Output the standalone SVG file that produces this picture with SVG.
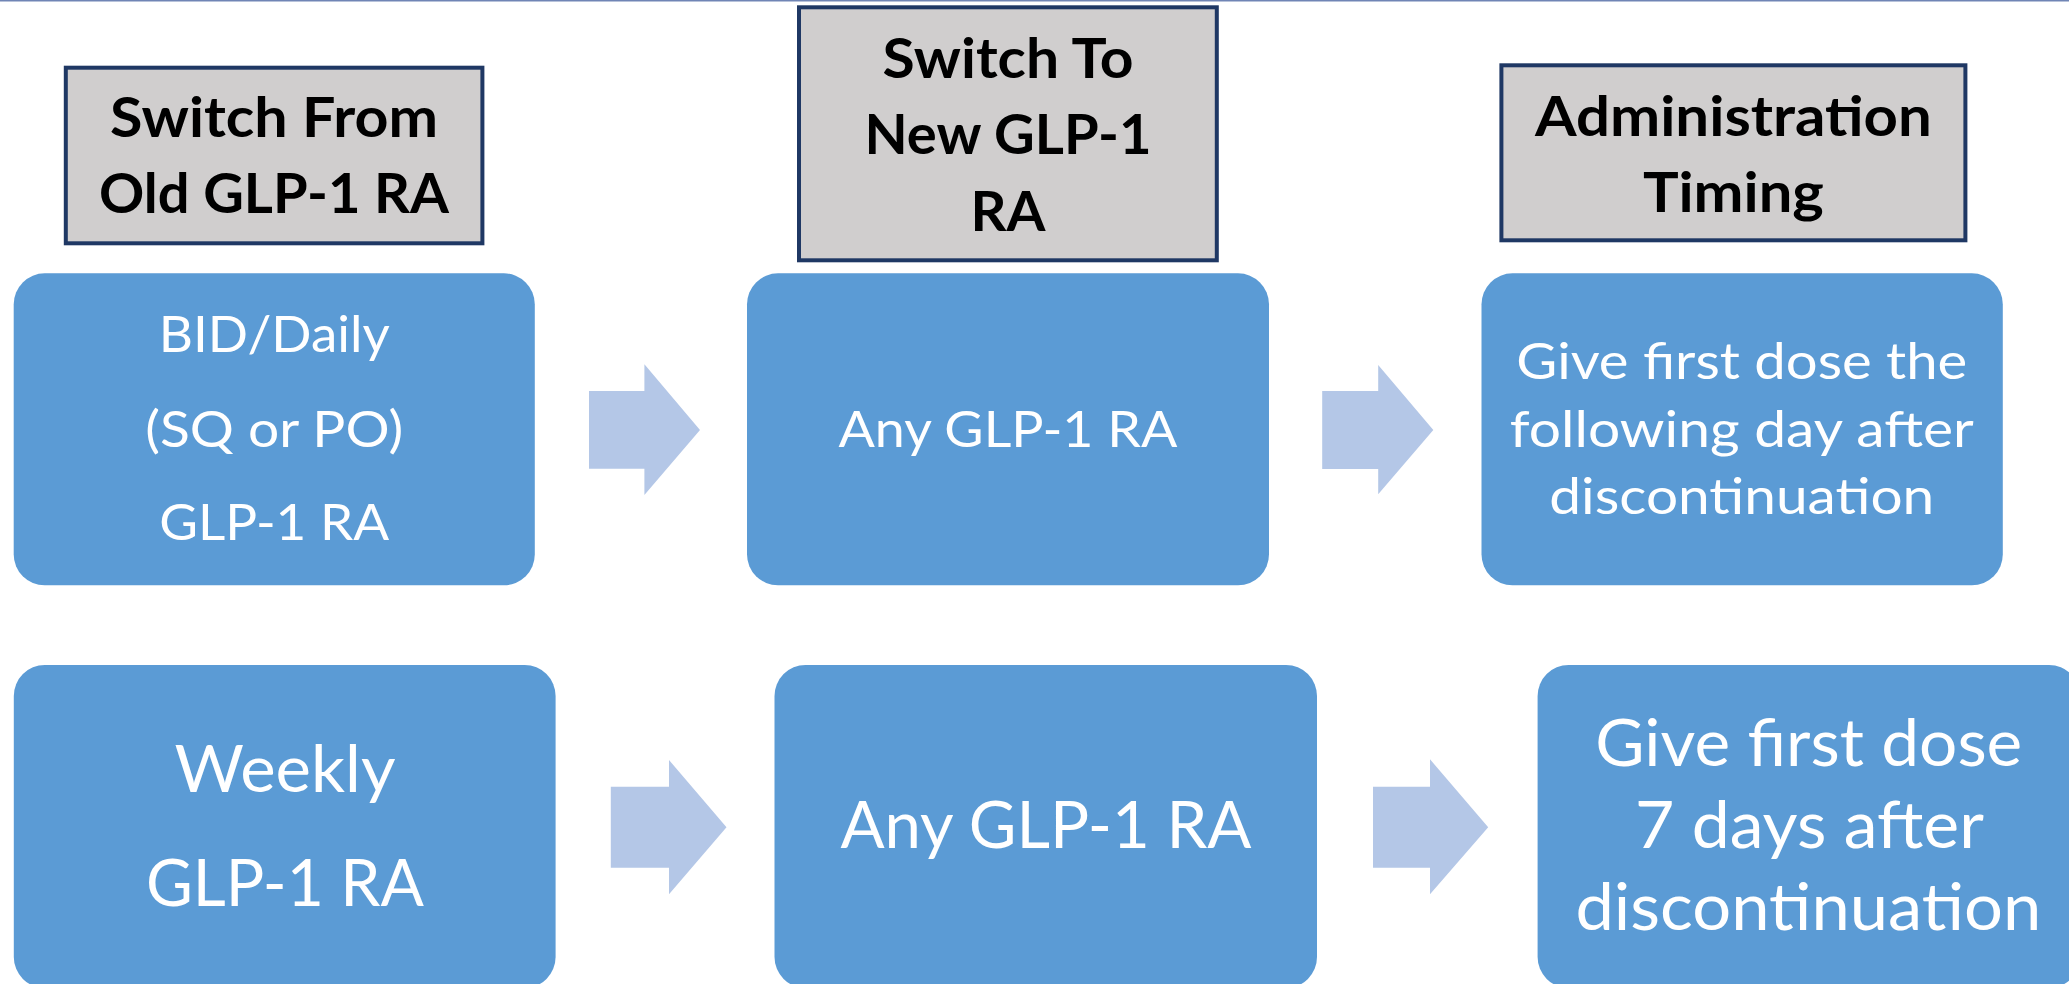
<svg xmlns="http://www.w3.org/2000/svg" width="2069" height="984" viewBox="0 0 2069 984">
  <style>
    .hdr { fill: #d0cece; stroke: #1f3864; stroke-width: 4; }
    .hdr-t { font-family: Lato, "Liberation Sans", sans-serif; font-weight: bold; font-size: 56px; fill: #000000; text-anchor: middle; }
    .box { fill: #5b9bd5; }
    .box-t { font-family: Lato, "Liberation Sans", sans-serif; font-size: 51px; fill: #ffffff; text-anchor: middle; }
    .box-t-lg { font-family: Lato, "Liberation Sans", sans-serif; font-size: 65px; fill: #ffffff; text-anchor: middle; }
    .arrow { fill: #b4c7e7; }
  </style>

  <!-- top rule -->
  <rect x="0" y="0" width="2069" height="1.5" fill="#7085b5"/>

  <!-- column headers -->
  <g id="header-from">
    <rect class="hdr" x="65.8" y="67.7" width="416.6" height="175.6"/>
    <text class="hdr-t" x="274" y="137.3" textLength="328" lengthAdjust="spacingAndGlyphs">Switch From</text>
    <text class="hdr-t" x="274" y="213.3" textLength="350" lengthAdjust="spacingAndGlyphs">Old GLP-1 RA</text>
  </g>
  <g id="header-to">
    <rect class="hdr" x="799" y="7.3" width="417.8" height="253"/>
    <text class="hdr-t" x="1008" y="78" textLength="251" lengthAdjust="spacingAndGlyphs">Switch To</text>
    <text class="hdr-t" x="1008" y="154" textLength="287" lengthAdjust="spacingAndGlyphs">New GLP-1</text>
    <text class="hdr-t" x="1008" y="231" textLength="75" lengthAdjust="spacingAndGlyphs">RA</text>
  </g>
  <g id="header-timing">
    <rect class="hdr" x="1501.4" y="65.3" width="464" height="175"/>
    <text class="hdr-t" x="1733.4" y="136" textLength="397" lengthAdjust="spacingAndGlyphs">Administration</text>
    <text class="hdr-t" x="1733.4" y="212" textLength="181" lengthAdjust="spacingAndGlyphs">Timing</text>
  </g>

  <!-- row 1: BID/daily -->
  <g id="daily-from">
    <rect class="box" x="13.7" y="273.3" width="521.1" height="312" rx="31" ry="31"/>
    <text class="box-t" x="274.2" y="352.3" textLength="231" lengthAdjust="spacingAndGlyphs">BID/Daily</text>
    <text class="box-t" x="274.2" y="446.7" textLength="258" lengthAdjust="spacingAndGlyphs">(SQ or PO)</text>
    <text class="box-t" x="274.2" y="540" textLength="230" lengthAdjust="spacingAndGlyphs">GLP-1 RA</text>
  </g>
  <g id="daily-to">
    <rect class="box" x="747" y="273.3" width="522" height="312" rx="31" ry="31"/>
    <text class="box-t" x="1008" y="446.7" textLength="339" lengthAdjust="spacingAndGlyphs">Any GLP-1 RA</text>
  </g>
  <g id="daily-timing">
    <rect class="box" x="1481.5" y="273.3" width="521.3" height="312" rx="31" ry="31"/>
    <text class="box-t" x="1741.8" y="379" textLength="451" lengthAdjust="spacingAndGlyphs">Give first dose the</text>
    <text class="box-t" x="1741.8" y="447.3" textLength="464" lengthAdjust="spacingAndGlyphs">following day after</text>
    <text class="box-t" x="1741.8" y="514" textLength="385" lengthAdjust="spacingAndGlyphs">discontinuation</text>
  </g>

  <!-- row 2: weekly -->
  <g id="weekly-from">
    <rect class="box" x="13.8" y="665" width="541.8" height="323" rx="31" ry="31"/>
    <text class="box-t-lg" x="285" y="791.7" textLength="221" lengthAdjust="spacingAndGlyphs">Weekly</text>
    <text class="box-t-lg" x="285" y="905.7" textLength="278" lengthAdjust="spacingAndGlyphs">GLP-1 RA</text>
  </g>
  <g id="weekly-to">
    <rect class="box" x="774.5" y="665" width="542.5" height="323" rx="31" ry="31"/>
    <text class="box-t-lg" x="1046" y="847.7" textLength="411" lengthAdjust="spacingAndGlyphs">Any GLP-1 RA</text>
  </g>
  <g id="weekly-timing">
    <rect class="box" x="1537.6" y="665" width="542.4" height="323" rx="31" ry="31"/>
    <text class="box-t-lg" x="1808.8" y="766" textLength="427" lengthAdjust="spacingAndGlyphs">Give first dose</text>
    <text class="box-t-lg" x="1809.4" y="848.3" textLength="349" lengthAdjust="spacingAndGlyphs">7 days after</text>
    <text class="box-t-lg" x="1808.4" y="930" textLength="466" lengthAdjust="spacingAndGlyphs">discontinuation</text>
  </g>

  <!-- connectors: block arrows -->
  <g id="connectors">
    <polygon class="arrow" points="589,391 644.4,391 644.4,364.3 700,430 644.4,495 644.4,468.7 589,468.7"/>
    <polygon class="arrow" points="1322.2,391 1378.2,391 1378.2,365 1433.3,430 1378.2,494.3 1378.2,469 1322.2,469"/>
    <polygon class="arrow" points="610.8,786.7 669,786.7 669,760 726.5,827.3 669,894.3 669,867.7 610.8,867.7"/>
    <polygon class="arrow" points="1373,786.7 1430,786.7 1430,759.3 1488.2,827.3 1430,894.3 1430,867.7 1373,867.7"/>
  </g>
</svg>
